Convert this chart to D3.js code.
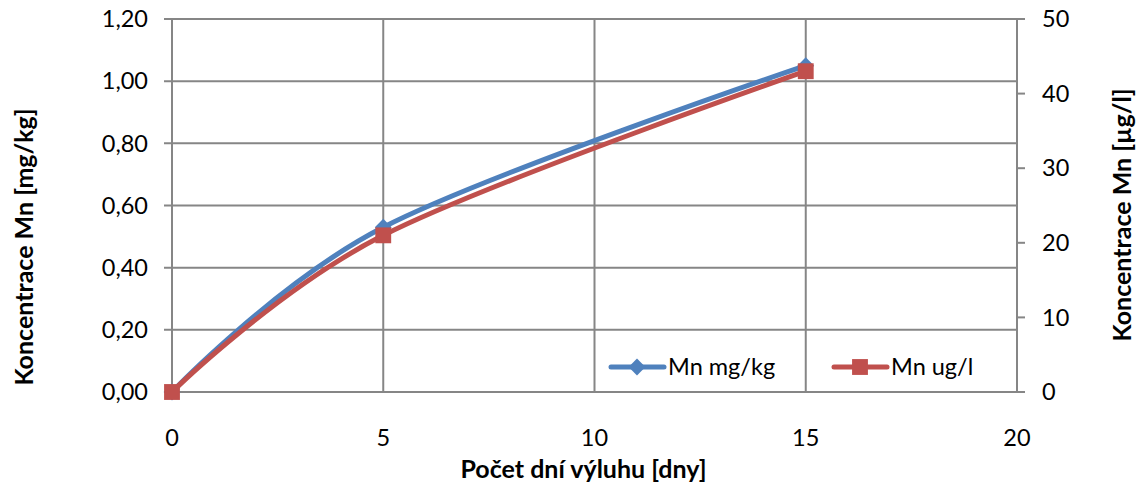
<!DOCTYPE html>
<html>
<head>
<meta charset="utf-8">
<script src="https://cdn.jsdelivr.net/npm/d3@7"></script>
<style>
  body { margin: 0; background: #fff; }
  text { font-family: Lato, "Open Sans", sans-serif; fill: #000; }
</style>
</head>
<body>
<div id="chart"></div>
<script>
// data
let days = [0, 5, 15];
let mnMgKg = [0, 0.53, 1.05];
let mnUgL = [0, 21, 43];
let xTicks = [0, 5, 10, 15, 20];
let yLeftTicks = [0, 0.2, 0.4, 0.6, 0.8, 1.0, 1.2];
let yRightTicks = [0, 10, 20, 30, 40, 50];
let seriesNames = ["Mn mg/kg", "Mn ug/l"];

let width = 1136, height = 488;
let margin = {top: 19, right: 119, bottom: 96, left: 172};
let w = width - margin.left - margin.right;
let h = height - margin.top - margin.bottom;

let svg = d3.select("#chart").append("svg")
  .attr("width", width)
  .attr("height", height);

let g = svg.append("g")
  .attr("transform", "translate(" + margin.left + "," + margin.top + ")");

let xScale = d3.scaleLinear().domain([0, 20]).range([0, w]);
let yLeft = d3.scaleLinear().domain([0, 1.2]).range([h, 0]);
let yRight = d3.scaleLinear().domain([0, 50]).range([h, 0]);

let fmt = (d) => d3.format(".2f")(d).replace(".", ",");
let grid = "#868686";
let tickSize = "23.5px", titleSize = "25px";

// gridlines
g.append("g").selectAll("line")
  .data(yLeftTicks).enter().append("line")
  .attr("x1", -8).attr("x2", w)
  .attr("y1", (d) => yLeft(d)).attr("y2", (d) => yLeft(d))
  .attr("stroke", grid).attr("stroke-width", 2);

g.append("g").selectAll("line")
  .data(xTicks).enter().append("line")
  .attr("x1", (d) => xScale(d)).attr("x2", (d) => xScale(d))
  .attr("y1", 0).attr("y2", h)
  .attr("stroke", grid).attr("stroke-width", 2);

// right axis
g.append("line")
  .attr("x1", w).attr("x2", w).attr("y1", 0).attr("y2", h)
  .attr("stroke", grid).attr("stroke-width", 2);
g.append("g").selectAll("line")
  .data(yRightTicks).enter().append("line")
  .attr("x1", w).attr("x2", w + 8)
  .attr("y1", (d) => yRight(d)).attr("y2", (d) => yRight(d))
  .attr("stroke", grid).attr("stroke-width", 2);

// tick labels
g.append("g").selectAll("text")
  .data(yLeftTicks).enter().append("text")
  .attr("x", -24).attr("y", (d) => yLeft(d))
  .attr("dy", "0.35em")
  .attr("text-anchor", "end")
  .style("font-size", tickSize)
  .text(fmt);

g.append("g").selectAll("text")
  .data(yRightTicks).enter().append("text")
  .attr("x", w + 25).attr("y", (d) => yRight(d))
  .attr("dy", "0.35em")
  .style("font-size", tickSize)
  .text((d) => d);

g.append("g").selectAll("text")
  .data(xTicks).enter().append("text")
  .attr("x", (d) => xScale(d)).attr("y", h + 54)
  .attr("text-anchor", "middle")
  .style("font-size", tickSize)
  .text((d) => d);

// axis titles
g.append("text")
  .attr("x", w / 2 - 11).attr("y", h + 86)
  .attr("text-anchor", "middle")
  .style("font-size", titleSize).style("font-weight", "bold")
  .text("Počet dní výluhu [dny]");

svg.append("text")
  .attr("transform", "translate(33,247) rotate(-90)")
  .attr("text-anchor", "middle")
  .style("font-size", titleSize).style("font-weight", "bold")
  .text("Koncentrace Mn [mg/kg]");

svg.append("text")
  .attr("transform", "translate(1131,215) rotate(-90)")
  .attr("text-anchor", "middle")
  .style("font-size", titleSize).style("font-weight", "bold")
  .text("Koncentrace Mn [µg/l]");

// series
let blue = "#4F81BD", red = "#C0504D";
let curve = d3.curveCatmullRom.alpha(0);

let lineLeft = d3.line()
  .x((d, i) => xScale(days[i]))
  .y((d) => yLeft(d))
  .curve(curve);
let lineRight = d3.line()
  .x((d, i) => xScale(days[i]))
  .y((d) => yRight(d))
  .curve(curve);

g.append("path").attr("d", lineLeft(mnMgKg))
  .attr("fill", "none").attr("stroke", blue)
  .attr("stroke-width", 5).attr("stroke-linecap", "round");

let diamond = d3.symbol().type(d3.symbolDiamond2).size(180);
let square = d3.symbol().type(d3.symbolSquare2).size(320);

g.append("g").selectAll("path")
  .data(mnMgKg).enter().append("path")
  .attr("d", diamond)
  .attr("transform", (d, i) => "translate(" + xScale(days[i]) + "," + yLeft(d) + ")")
  .attr("fill", blue);

g.append("path").attr("d", lineRight(mnUgL))
  .attr("fill", "none").attr("stroke", red)
  .attr("stroke-width", 5).attr("stroke-linecap", "round");

g.append("g").selectAll("path")
  .data(mnUgL).enter().append("path")
  .attr("d", square)
  .attr("transform", (d, i) => "translate(" + xScale(days[i]) + "," + yRight(d) + ")")
  .attr("fill", red);

// legend
let legend = svg.append("g");
let legendItems = [
  {name: seriesNames[0], color: blue, sym: diamond, x: 611},
  {name: seriesNames[1], color: red, sym: square, x: 834}
];
let ly = 367;
legendItems.forEach(function(it) {
  legend.append("line")
    .attr("x1", it.x).attr("x2", it.x + 53)
    .attr("y1", ly).attr("y2", ly)
    .attr("stroke", it.color).attr("stroke-width", 5)
    .attr("stroke-linecap", "round");
  legend.append("path")
    .attr("d", it.sym)
    .attr("transform", "translate(" + (it.x + 26) + "," + ly + ")")
    .attr("fill", it.color);
  legend.append("text")
    .attr("x", it.x + 57).attr("y", ly)
    .attr("dy", "0.35em")
    .style("font-size", tickSize)
    .text(it.name);
});
</script>
</body>
</html>
